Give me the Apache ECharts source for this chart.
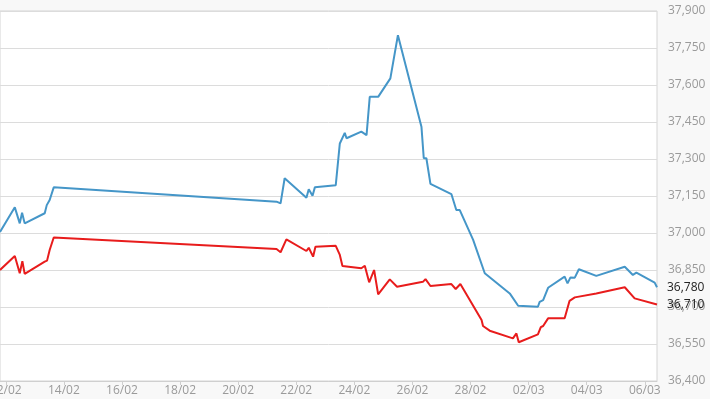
<!DOCTYPE html>
<html>
<head>
<meta charset="utf-8">
<script src="https://cdn.jsdelivr.net/npm/echarts@6/dist/echarts.min.js"></script>
<style>
	html, body { margin: 0; padding: 0; background: #f8f8f8; }
	#chart { width: 710px; height: 399px; }
</style>
</head>
<body>
<div id="chart"></div>
<script>
// x = days since 12/02
var blueDays = [-0.2, 0.31, 0.48, 0.56, 0.65, 1.34, 1.41, 1.51, 1.65, 9.32, 9.46, 9.60, 10.35, 10.43, 10.56, 10.64,
	11.36, 11.50, 11.67, 11.73, 12.24, 12.42, 12.53, 12.82, 13.24, 13.50, 14.31, 14.39, 14.48, 14.62, 15.34, 15.51,
	15.63, 16.09, 16.49, 17.35, 17.64, 18.32, 18.38, 18.50, 18.67, 19.24, 19.34, 19.44, 19.59, 19.73, 20.33, 21.31,
	21.59, 21.71, 22.34, 22.42];
var blueValues = [37004, 37104, 37039, 37082, 37039, 37080, 37113, 37134, 37185, 37127, 37120, 37222, 37143, 37177, 37151, 37185,
	37194, 37363, 37406, 37384, 37411, 37397, 37552, 37552, 37627, 37802, 37431, 37303, 37303, 37199, 37158, 37093,
	37093, 36972, 36837, 36755, 36705, 36701, 36721, 36728, 36778, 36823, 36796, 36820, 36819, 36853, 36826, 36863,
	36830, 36839, 36799, 36780];

var redDays = [-0.2, 0.31, 0.48, 0.57, 0.65, 1.34, 1.42, 1.51, 1.65, 9.32, 9.46, 9.66, 10.35, 10.43, 10.58, 10.66,
	11.36, 11.50, 11.59, 12.24, 12.36, 12.51, 12.68, 12.82, 13.22, 13.47, 14.36, 14.45, 14.62, 15.34, 15.49, 15.65,
	16.38, 16.43, 16.66, 17.46, 17.58, 17.66, 18.32, 18.42, 18.50, 18.67, 19.24, 19.41, 19.59, 20.33, 21.31, 21.65,
	22.42];
var redValues = [36850, 36907, 36837, 36886, 36834, 36884, 36888, 36931, 36982, 36935, 36922, 36974, 36927, 36940, 36904, 36944,
	36948, 36911, 36866, 36857, 36867, 36800, 36850, 36751, 36812, 36782, 36802, 36813, 36785, 36793, 36773, 36793,
	36647, 36623, 36604, 36573, 36593, 36557, 36589, 36618, 36623, 36654, 36654, 36725, 36739, 36755, 36780, 36735,
	36710];

var yMin = 36400, yMax = 37900, yStep = 150;

function pairs(xs, ys) {
	var out = [];
	for (var i = 0; i < xs.length; i++) out.push([xs[i], ys[i]]);
	return out;
}
function addCommas(v) {
	return String(v).replace(/\B(?=(\d{3})+(?!\d))/g, ',');
}
function dayLabel(d) {
	var dt = new Date(2015, 1, 12 + Math.round(d));
	var dd = dt.getDate(), mm = dt.getMonth() + 1;
	return (dd < 10 ? '0' : '') + dd + '/' + (mm < 10 ? '0' : '') + mm;
}

var chart = echarts.init(document.getElementById('chart'));
var font = 'Open Sans';

var option = {
	animation: false,
	backgroundColor: '#f8f8f8',
	grid: {
		left: 0,
		right: 53,
		top: 11,
		bottom: 18,
		outerBoundsMode: 'none',
		containLabel: false,
		show: true,
		backgroundColor: '#ffffff',
		borderColor: '#d4d4d4',
		borderWidth: 1
	},
	xAxis: {
		type: 'value',
		min: -0.2,
		max: 22.42,
		minInterval: 2,
		maxInterval: 2,
		axisLine: { lineStyle: { color: '#cfcfcf' } },
		axisTick: { show: true, length: 4, lineStyle: { color: '#cfcfcf' } },
		splitLine: { show: false },
		axisLabel: {
			showMinLabel: false,
			showMaxLabel: false,
			hideOverlap: false,
			margin: 4,
			color: '#9a9a9a',
			fontFamily: font,
			fontSize: 12,
			formatter: dayLabel
		}
	},
	yAxis: {
		type: 'value',
		position: 'right',
		min: yMin,
		max: yMax,
		interval: yStep,
		axisLine: { show: false },
		axisTick: { show: false },
		splitLine: { lineStyle: { color: '#dcdcdc' } },
		axisLabel: {
			margin: 11,
			color: '#9a9a9a',
			fontFamily: font,
			fontSize: 12,
			formatter: addCommas
		}
	},
	series: [
		{
			type: 'line',
			data: pairs(blueDays, blueValues),
			symbol: 'none',
			lineStyle: { color: '#4596c8', width: 2 },
			itemStyle: { color: '#4596c8' },
			endLabel: {
				show: true,
				distance: 10,
				color: '#222',
				fontFamily: font,
				fontSize: 12,
				formatter: function (p) { return addCommas(p.value[1]); }
			}
		},
		{
			type: 'line',
			data: pairs(redDays, redValues),
			symbol: 'none',
			lineStyle: { color: '#e81c1c', width: 2 },
			itemStyle: { color: '#e81c1c' },
			endLabel: {
				show: true,
				distance: 10,
				color: '#222',
				fontFamily: font,
				fontSize: 12,
				formatter: function (p) { return addCommas(p.value[1]); }
			}
		}
	]
};

chart.setOption(option);
</script>
</body>
</html>
